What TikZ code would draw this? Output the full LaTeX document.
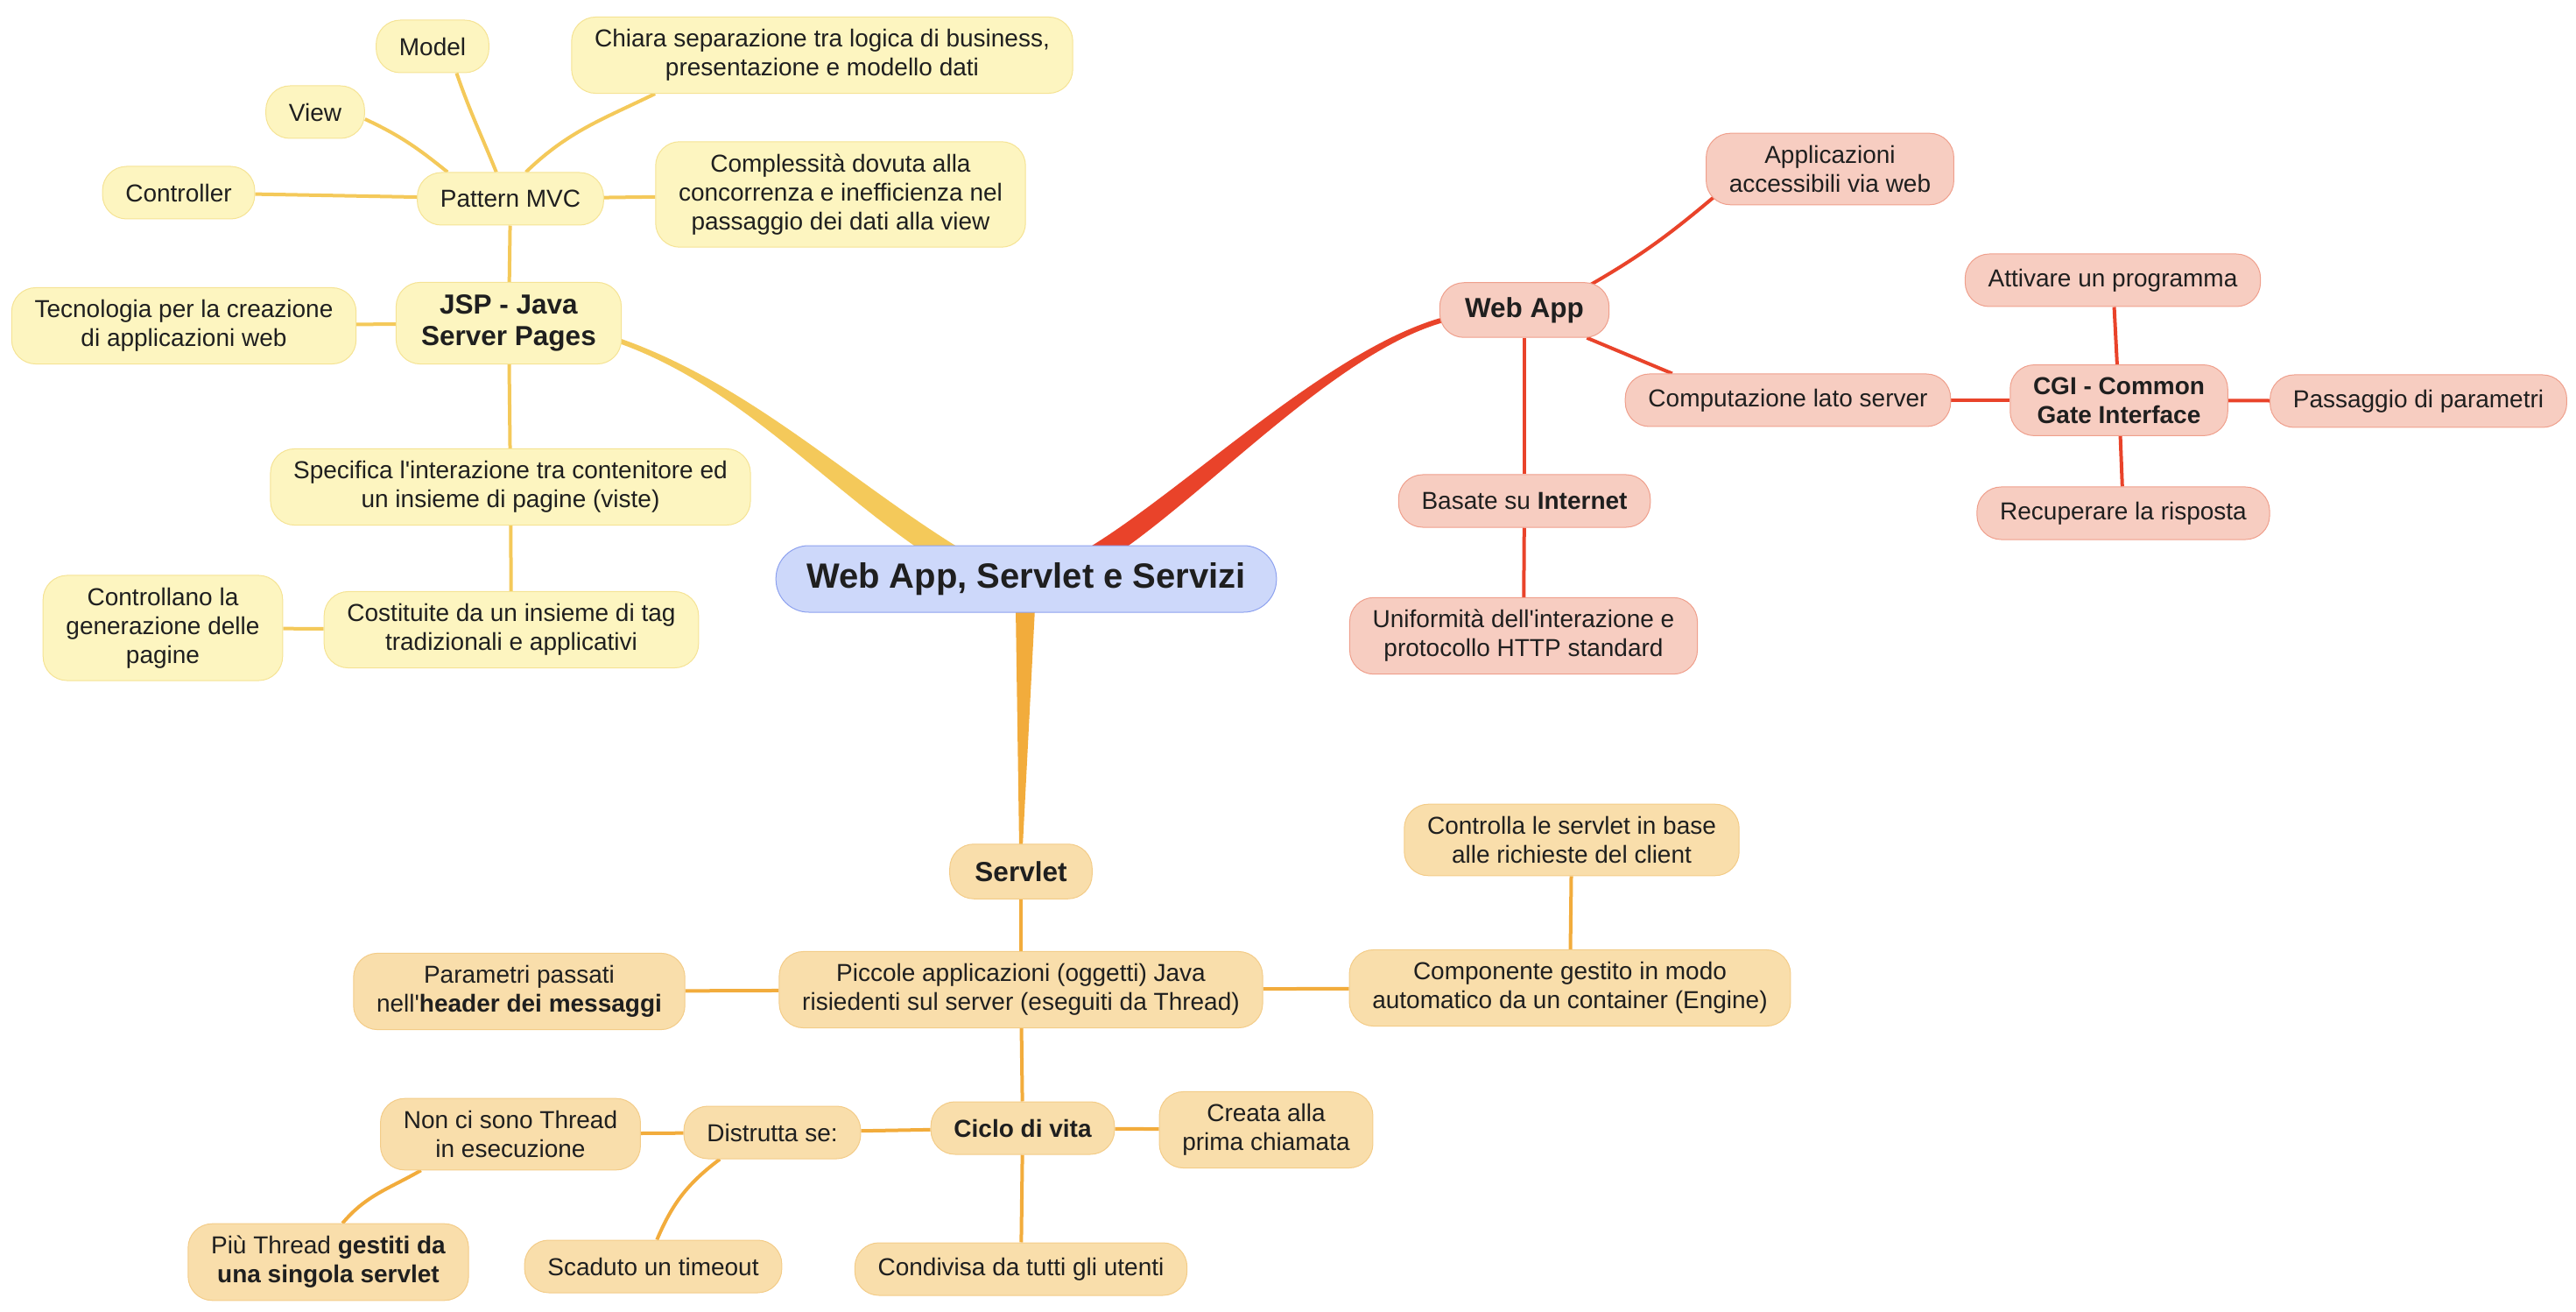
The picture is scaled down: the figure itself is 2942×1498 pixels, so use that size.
\documentclass[tikz,border=0pt]{standalone}
\usepackage{fontspec}
\setmainfont{Liberation Sans}[Ligatures = TeXOff]
\usetikzlibrary{calc}
\usetikzlibrary{backgrounds}

\definecolor{ink}{HTML}{1F1F1F}
\definecolor{rootFill}{HTML}{CDD8FA}
\definecolor{rootLine}{HTML}{8DA1EF}
\definecolor{jspFill}{HTML}{FDF5C0}
\definecolor{jspLine}{HTML}{F5E394}
\definecolor{jspWire}{HTML}{F4C95A}
\definecolor{webFill}{HTML}{F7CDC1}
\definecolor{webLine}{HTML}{EF9F8C}
\definecolor{webWire}{HTML}{E9432A}
\definecolor{srvFill}{HTML}{F9DEAB}
\definecolor{srvLine}{HTML}{F3CC88}
\definecolor{srvWire}{HTML}{F2AC3C}

\newcommand{\subsize}{\fontsize{11.2}{13.2}\selectfont}
\newcommand{\topsize}{\fontsize{12.6}{14.6}\selectfont}
\newcommand{\rootsize}{\fontsize{16}{18}\selectfont}

\begin{document}
\begin{tikzpicture}[x = 0.4pt, y = 0.4pt, font = \subsize, text = ink]
\tikzset{
  block/.style = {draw, rectangle, rounded corners = 11pt, align = center, line width = 0.4pt,
                  inner xsep = 10.5pt, inner ysep = 5.6pt, minimum height = 24pt},
  root/.style = {block, fill = rootFill, draw = rootLine, font = \bfseries\rootsize,
                 inner xsep = 14pt, minimum height = 30.4pt, rounded corners = 15pt},
  main/.style = {font = \bfseries\topsize, inner xsep = 11.5pt, minimum height = 25pt},
  jsp/.style = {block, fill = jspFill, draw = jspLine},
  web/.style = {block, fill = webFill, draw = webLine},
  srv/.style = {block, fill = srvFill, draw = srvLine},
  jspLink/.style = {draw = jspWire, line width = 1.6pt},
  webLink/.style = {draw = webWire, line width = 1.6pt},
  srvLink/.style = {draw = srvWire, line width = 1.6pt},
}
\useasboundingbox (0, 0) rectangle (2942, -1498);

\node [root] (root) at (1172, -661) {Web App, Servlet e Servizi};

% JSP
\node [jsp, main] (jspNode) at (581, -369) {JSP - Java\\Server Pages};
\node [jsp] (pattern) at (583, -227) {Pattern MVC};
\node [jsp] (model) at (494, -53) {Model};
\node [jsp] (view) at (360, -128) {View};
\node [jsp] (controller) at (204, -220) {Controller};
\node [jsp] (separation) at (939, -63) {Chiara separazione tra logica di business,\\presentazione e modello dati};
\node [jsp] (complexity) at (960, -222) {Complessità dovuta alla\\concorrenza e inefficienza nel\\passaggio dei dati alla view};
\node [jsp] (technology) at (210, -372) {Tecnologia per la creazione\\di applicazioni web};
\node [jsp] (interaction) at (583, -556) {Specifica l'interazione tra contenitore ed\\un insieme di pagine (viste)};
\node [jsp] (tags) at (584, -719) {Costituite da un insieme di tag\\tradizionali e applicativi};
\node [jsp] (generation) at (186, -717) {Controllano la\\generazione delle\\pagine};

% Web App
\node [web, main] (webApp) at (1741, -354) {Web App};
\node [web] (access) at (2090, -193) {Applicazioni\\accessibili via web};
\node [web] (computation) at (2042, -457) {Computazione lato server};
\node [web, font = \bfseries\subsize] (cgi) at (2420, -457) {CGI - Common\\Gate Interface};
\node [web] (activate) at (2413, -320) {Attivare un programma};
\node [web] (params) at (2762, -458) {Passaggio di parametri};
\node [web] (response) at (2425, -586) {Recuperare la risposta};
\node [web] (internet) at (1741, -572) {Basate su \textbf{Internet}};
\node [web] (uniform) at (1740, -726) {Uniformità dell'interazione e\\protocollo HTTP standard};

% Servlet
\node [srv, main] (servlet) at (1166, -995) {Servlet};
\node [srv] (small) at (1166, -1130) {Piccole applicazioni (oggetti) Java\\risiedenti sul server (eseguiti da Thread)};
\node [srv] (header) at (593, -1132) {Parametri passati\\nell'\textbf{header dei messaggi}};
\node [srv] (component) at (1793, -1128) {Componente gestito in modo\\automatico da un container (Engine)};
\node [srv] (requests) at (1795, -959) {Controlla le servlet in base\\alle richieste del client};
\node [srv, font = \bfseries\subsize] (lifecycle) at (1168, -1288) {Ciclo di vita};
\node [srv] (created) at (1446, -1290) {Creata alla\\prima chiamata};
\node [srv] (destroyed) at (882, -1293) {Distrutta se:};
\node [srv] (noThread) at (583, -1295) {Non ci sono Thread\\in esecuzione};
\node [srv] (manyThreads) at (375, -1441) {Più Thread \textbf{gestiti da}\\\textbf{una singola servlet}};
\node [srv] (timeout) at (746, -1446) {Scaduto un timeout};
\node [srv] (shared) at (1166, -1449) {Condivisa da tutti gli utenti};

\begin{scope}[on background layer]
% main branches
\fill [jspWire] ($(jspNode.east) + (-6, -16)$) .. controls +(148, -51) and +(-127, 79) .. ($(root.north) + (-80, -1)$)
  -- ($(root.north) + (-94, -23)$) .. controls +(-127, 79) and +(146, -51) .. ($(jspNode.east) + (-6, -22)$) -- cycle;
\fill [webWire] ($(root.north) + (71, -3)$) .. controls +(111, 67) and +(-131, -36) .. ($(webApp.west) + (5, -8)$)
  -- ($(webApp.west) + (5, -14)$) .. controls +(-129, -36) and +(111, 67) .. ($(root.north) + (83, -23)$) -- cycle;
\fill [srvWire] ($(root.south) + (-12, 5)$) -- ($(servlet.north) + (-2, -3)$)
  -- ($(servlet.north) + (2, -3)$) -- ($(root.south) + (10, 5)$) -- cycle;

% JSP links
\draw [jspLink] (jspNode) -- (pattern);
\draw [jspLink] (pattern) -- (controller);
\draw [jspLink] (pattern) -- (complexity);
\draw [jspLink] (pattern.118) to [out = 112, in = -71] (model.-48);
\draw [jspLink] (pattern.157) to [out = 141, in = -25] (view.-8);
\draw [jspLink] (pattern.60) to [out = 44, in = -154] (separation.-167);
\draw [jspLink] (jspNode) -- (technology);
\draw [jspLink] (jspNode) -- (interaction);
\draw [jspLink] (interaction) -- (tags);
\draw [jspLink] (tags) -- (generation);

% Web App links
\draw [webLink] ($(webApp.north east) + (-22, -3)$) to [out = 30, in = -140] ($(access.south west) + (9, 9)$);
\draw [webLink] (webApp.-24) -- (computation.167);
\draw [webLink] (computation) -- (cgi);
\draw [webLink] (cgi) -- (activate);
\draw [webLink] (cgi) -- (params);
\draw [webLink] (cgi) -- (response);
\draw [webLink] (webApp) -- (internet);
\draw [webLink] (internet) -- (uniform);

% Servlet links
\draw [srvLink] (servlet) -- (small);
\draw [srvLink] (small) -- (header);
\draw [srvLink] (small) -- (component);
\draw [srvLink] (component) -- (requests);
\draw [srvLink] (small) -- (lifecycle);
\draw [srvLink] (lifecycle) -- (created);
\draw [srvLink] (lifecycle) -- (destroyed);
\draw [srvLink] (lifecycle) -- (shared);
\draw [srvLink] (destroyed) -- (noThread);
\draw [srvLink] (noThread.-158) to [out = -150, in = 50] (manyThreads.70);
\draw [srvLink] (destroyed.-153) to [out = -143, in = 67] (timeout.82);
\end{scope}
\end{tikzpicture}
\end{document}
